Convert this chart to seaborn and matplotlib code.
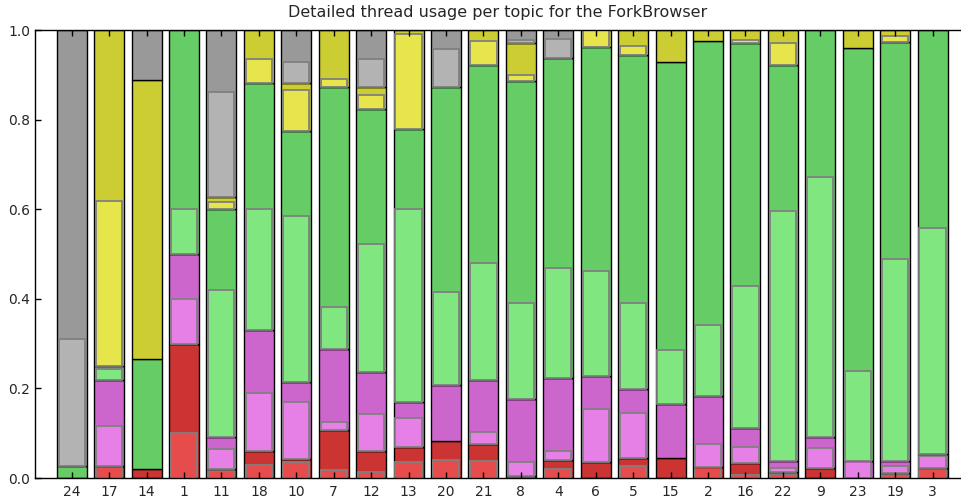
import numpy as np
import pandas as pd
import matplotlib
matplotlib.use("Agg")
import matplotlib.pyplot as plt
import seaborn as sns

topics = ["24", "17", "14", "1", "11", "18", "10", "7", "12", "13", "20", "21",
          "8", "4", "6", "5", "15", "2", "16", "22", "9", "23", "19", "3"]

# group totals and their "light" sub-portions (fraction of threads)
red_total    = [0.0, 0.027, 0.020, 0.300, 0.020, 0.061, 0.043, 0.107, 0.061, 0.070, 0.082, 0.076,
                0.004, 0.040, 0.036, 0.044, 0.045, 0.025, 0.034, 0.014, 0.023, 0.0, 0.012, 0.023]
red_light    = [0.0, 0.027, 0.0, 0.100, 0.015, 0.030, 0.036, 0.017, 0.014, 0.035, 0.040, 0.038,
                0.002, 0.020, 0.0, 0.027, 0.0, 0.025, 0.007, 0.010, 0.0, 0.0, 0.008, 0.019]
violet_total = [0.0, 0.192, 0.0, 0.200, 0.072, 0.269, 0.171, 0.182, 0.175, 0.100, 0.125, 0.143,
                0.172, 0.184, 0.192, 0.155, 0.120, 0.158, 0.077, 0.024, 0.068, 0.039, 0.027, 0.031]
violet_light = [0.0, 0.089, 0.0, 0.100, 0.044, 0.129, 0.127, 0.019, 0.081, 0.065, 0.0, 0.026,
                0.031, 0.020, 0.117, 0.100, 0.0, 0.052, 0.035, 0.009, 0.043, 0.039, 0.014, 0.025]
green_total  = [0.027, 0.032, 0.246, 0.500, 0.508, 0.551, 0.560, 0.583, 0.588, 0.610, 0.6665, 0.703,
                0.710, 0.714, 0.733, 0.746, 0.763, 0.792, 0.860, 0.884, 0.909, 0.9216, 0.935, 0.946]
green_light  = [0.0, 0.024, 0.0, 0.100, 0.328, 0.270, 0.371, 0.092, 0.287, 0.430, 0.209, 0.261,
                0.214, 0.245, 0.233, 0.191, 0.120, 0.1585, 0.3176, 0.558, 0.581, 0.200, 0.450, 0.505]
yellow_total = [0.0, 0.749, 0.622, 0.0, 0.028, 0.119, 0.108, 0.128, 0.048, 0.220, 0.0, 0.078,
                0.086, 0.0, 0.039, 0.055, 0.072, 0.025, 0.029, 0.078, 0.0, 0.0394, 0.026, 0.0]
yellow_light = [0.0, 0.368, 0.0, 0.0, 0.015, 0.054, 0.091, 0.019, 0.032, 0.210, 0.0, 0.053,
                0.014, 0.0, 0.039, 0.0185, 0.0, 0.0, 0.007, 0.048, 0.0, 0.0, 0.013, 0.0]
gray_total   = [0.973, 0.0, 0.112, 0.0, 0.372, 0.0, 0.118, 0.0, 0.128, 0.0, 0.1265, 0.0,
                0.028, 0.062, 0.0, 0.0, 0.0, 0.0, 0.0, 0.0, 0.0, 0.0, 0.0, 0.0]
gray_light   = [0.283, 0.0, 0.0, 0.0, 0.233, 0.0, 0.046, 0.0, 0.064, 0.0, 0.0845, 0.0,
                0.006, 0.042, 0.0, 0.0, 0.0, 0.0, 0.0, 0.0, 0.0, 0.0, 0.0, 0.0]

groups = [
    (red_total, red_light, "#cc3333", "#e64c4c"),
    (violet_total, violet_light, "#cc66cc", "#e680e6"),
    (green_total, green_light, "#66cc66", "#80e680"),
    (yellow_total, yellow_light, "#cccc33", "#e6e64c"),
    (gray_total, gray_light, "#999999", "#b3b3b3"),
]

sns.set_theme(style="ticks")
plt.rcParams["font.family"] = ["DejaVu Sans"]

fig = plt.figure(figsize=(9.61, 4.97), dpi=100)
ax = fig.add_axes([35 / 961, 19 / 497, 926 / 961, 448 / 497])

bottom = np.zeros(len(topics))


def draw(vals, bot, color, edge, lw, width):
    before = len(ax.patches)
    sns.barplot(x=topics, y=vals, bottom=bot.copy(), color=color, saturation=1,
                edgecolor=edge, linewidth=lw, width=width, errorbar=None, ax=ax,
                zorder=2)
    for p in ax.patches[before:]:
        if abs(p.get_height()) < 1e-9:
            p.set_visible(False)


for total, light, dark_c, light_c in groups:
    total = np.array(total, dtype=float)
    light = np.array(light, dtype=float)
    draw(total, bottom, dark_c, "black", 1.0, 0.8)
    draw(light, bottom, light_c, "#808080", 1.3, 0.7)
    bottom = bottom + total

ax.set_axisbelow(False)
ax.set_xlim(-0.98, 23.76)
ax.set_ylim(0, 1.0)
ax.set_yticks([0, 0.2, 0.4, 0.6, 0.8, 1.0])
ax.set_yticklabels(["0.0", "0.2", "0.4", "0.6", "0.8", "1.0"])
ax.set_xlabel("")
ax.set_ylabel("")
ax.set_title("Detailed thread usage per topic for the ForkBrowser", fontsize=11.5, pad=9)

ax.tick_params(axis="x", direction="in", top=True, bottom=True, length=4, width=1,
               labelsize=10, color="black", pad=5)
ax.tick_params(axis="y", direction="in", left=True, right=False, length=4, width=1,
               labelsize=10, color="black")
for s in ["left", "bottom", "top"]:
    ax.spines[s].set_visible(True)
    ax.spines[s].set_color("black")
    ax.spines[s].set_linewidth(1.0)
ax.spines["right"].set_visible(False)

fig.savefig("out.png", dpi=100)
